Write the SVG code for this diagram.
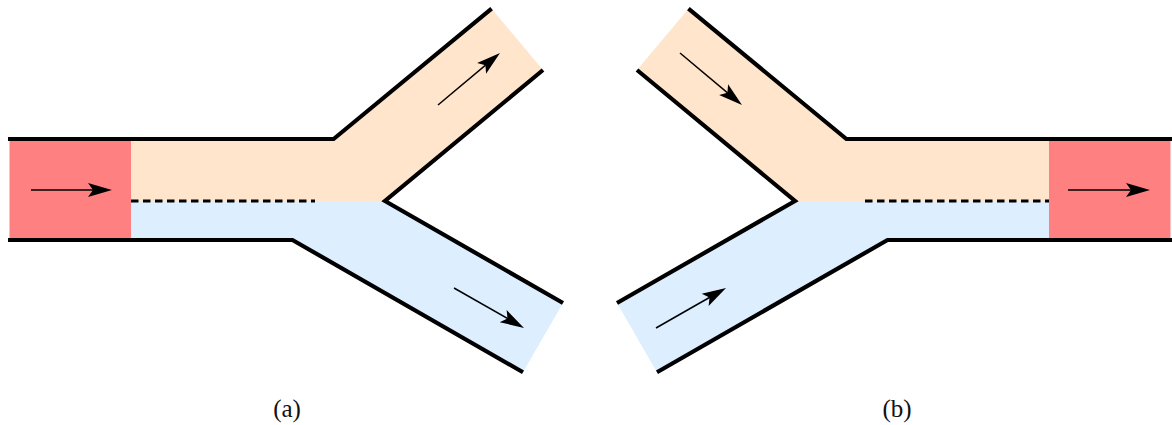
<svg xmlns="http://www.w3.org/2000/svg" width="1172" height="425" viewBox="0 0 1172 425">
<style>
.wall{fill:none;stroke:#000;stroke-width:4.2;stroke-linejoin:miter;stroke-linecap:butt}
.dash{fill:none;stroke:#000;stroke-width:3;stroke-dasharray:7.5 4.5}
.arr{fill:none;stroke:#000;stroke-width:1.5;marker-end:url(#head)}
.red{fill:#ff8080}
.org{fill:#ffe5cb}
.blu{fill:#ddeeff}
.lbl{font-family:"Liberation Serif","DejaVu Serif",serif;font-size:25px;fill:#111;text-anchor:middle}
</style>
<defs>
<marker id="head" markerUnits="userSpaceOnUse" markerWidth="30" markerHeight="20" refX="0" refY="0" orient="auto" overflow="visible">
<path d="M6,0 L-18,-7 L-13,0 L-18,7 Z" fill="#000"/>
</marker>
</defs>
<g id="split-a">
<rect class="red" x="9.5" y="139" width="121.5" height="101"/>
<polygon class="org" points="131,139 333.6,139 491.6,8.7 543,70 385,201 131,201"/>
<polygon class="blu" points="131,201 385,201 563,303 523,372.3 292.5,240 131,240"/>
<line class="dash" x1="131" y1="201" x2="315" y2="201"/>
<polyline class="wall" points="8,139 333.6,139 491.6,8.7"/>
<polyline class="wall" points="543,70 385,201 563,303"/>
<polyline class="wall" points="8,240 292.5,240 523,372.3"/>
</g>
<g id="merge-b">
<rect class="red" x="1049" y="139" width="121.5" height="101"/>
<polygon class="org" points="1049,139 846.4,139 688.4,8.7 637,70 795,201 1049,201"/>
<polygon class="blu" points="1049,201 795,201 617,303 657,372.3 887.5,240 1049,240"/>
<line class="dash" x1="865" y1="201" x2="1049" y2="201"/>
<polyline class="wall" points="1172,139 846.4,139 688.4,8.7"/>
<polyline class="wall" points="637,70 795,201 617,303"/>
<polyline class="wall" points="1172,240 887.5,240 657,372.3"/>
</g>
<g id="connectors">
<line class="arr" x1="31" y1="190" x2="106" y2="190"/>
<line class="arr" x1="438" y1="105" x2="495.4" y2="56.9"/>
<line class="arr" x1="454" y1="288" x2="518.8" y2="325"/>
<line class="arr" x1="680" y1="53" x2="737.4" y2="101.1"/>
<line class="arr" x1="656" y1="328" x2="720.8" y2="291"/>
<line class="arr" x1="1068" y1="190" x2="1144" y2="190"/>
</g>
<g id="labels">
<text class="lbl" x="287" y="417">(a)</text>
<text class="lbl" x="897" y="417">(b)</text>
</g>
</svg>
